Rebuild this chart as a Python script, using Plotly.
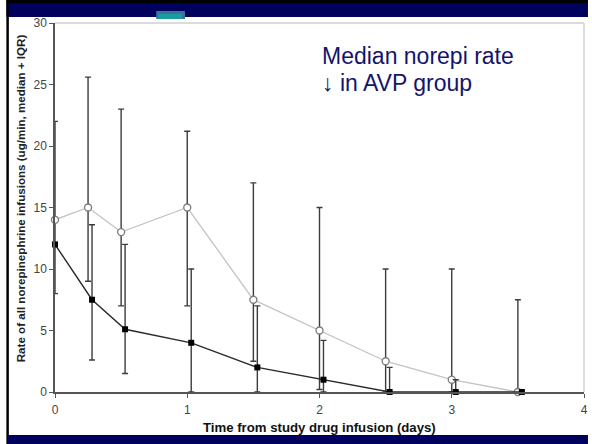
import plotly.graph_objects as go

# ---- data ----
days_placebo = [0, 0.25, 0.5, 1, 1.5, 2, 2.5, 3, 3.5]
median_placebo = [14, 15, 13, 15, 7.5, 5, 2.5, 1, 0]
q3_placebo = [22, 25.6, 23, 21.2, 17, 15, 10, 10, 7.5]
q1_placebo = [8, 9, 7, 7, 2.5, 0.2, 0, 0, 0]

days_avp = [0, 0.28, 0.53, 1.03, 1.53, 2.03, 2.53, 3.03, 3.53]
median_avp = [12, 7.5, 5.1, 4, 2, 1, 0, 0, 0]
q3_avp = [12, 13.6, 12, 10, 7, 4.2, 2, 1, 0]
q1_avp = [12, 2.6, 1.5, 0, 0, 0, 0, 0, 0]

x_ticks = [0, 1, 2, 3, 4]
y_ticks = [0, 5, 10, 15, 20, 25, 30]

W, H = 592, 444
L, R, T, B = 55, 588, 23, 392  # plot area in pixels


def px(x):
    return (x - L) / (R - L)


def py(y):
    return (B - y) / (B - T)


fig = go.Figure()

err_col = "#3c3c3c"

fig.add_trace(go.Scatter(
    x=days_placebo, y=median_placebo, mode="lines+markers",
    line=dict(color="#c4c4c4", width=1.3),
    marker=dict(symbol="circle", size=7, color="white",
                line=dict(color="#7a7a7a", width=1.3)),
    error_y=dict(type="data", symmetric=False,
                 array=[h - m for h, m in zip(q3_placebo, median_placebo)],
                 arrayminus=[m - l for l, m in zip(q1_placebo, median_placebo)],
                 color=err_col, thickness=1.4, width=3),
    cliponaxis=False, showlegend=False,
))

fig.add_trace(go.Scatter(
    x=days_avp, y=median_avp, mode="lines+markers",
    line=dict(color="#2a2a2a", width=1.4),
    marker=dict(symbol="square", size=6, color="black"),
    error_y=dict(type="data", symmetric=False,
                 array=[h - m for h, m in zip(q3_avp, median_avp)],
                 arrayminus=[m - l for l, m in zip(q1_avp, median_avp)],
                 color=err_col, thickness=1.4, width=3),
    cliponaxis=False, showlegend=False,
))

shapes = []
# plot area top/right border
shapes.append(dict(type="line", xref="paper", yref="paper", x0=0, x1=1, y0=1, y1=1,
                   line=dict(color="#cfcfcf", width=1.5)))
shapes.append(dict(type="line", xref="paper", yref="paper", x0=1, x1=1, y0=0, y1=1,
                   line=dict(color="#cfcfcf", width=1.5)))


def rect(x0, y0, x1, y1, color):
    shapes.append(dict(type="rect", xref="paper", yref="paper",
                       x0=px(x0), x1=px(x1), y0=py(y1), y1=py(y0),
                       fillcolor=color, line=dict(width=0), layer="above"))


# slide frame
rect(6, 0, W, 3, "#000000")
rect(6, 3, W, 17, "#00005e")
rect(6, 0, 8.5, H, "#000000")
rect(7, 435, W, H, "#00005e")
rect(157, 11, 186, 19, "#3f6f9c")
rect(159, 14, 183, 19, "#1a9c9c")

note_font = dict(family="Liberation Sans, Arial", size=23, color="#14146b")
annotations = [
    dict(text="Median norepi rate", xref="paper", yref="paper",
         x=px(322), y=py(41), xanchor="left", yanchor="top", align="left",
         showarrow=False, font=note_font),
    dict(text="↓ in AVP group", xref="paper", yref="paper",
         x=px(322), y=py(68), xanchor="left", yanchor="top", align="left",
         showarrow=False, font=note_font),
    dict(text="<b>Rate of all norepinephrine infusions (ug/min, median + IQR)</b>",
         xref="paper", yref="paper", x=px(20), y=py(198), textangle=-90,
         xanchor="center", yanchor="middle", showarrow=False,
         font=dict(family="Liberation Sans, Arial", size=11.6, color="#222222")),
    dict(text="<b>Time from study drug infusion (days)</b>",
         xref="paper", yref="paper", x=px(321), y=py(427),
         xanchor="center", yanchor="middle", showarrow=False,
         font=dict(family="Liberation Sans, Arial", size=13.2, color="#111111")),
]

fig.update_layout(
    width=W, height=H,
    margin=dict(l=L, r=W - R, t=T, b=H - B, pad=0),
    paper_bgcolor="white", plot_bgcolor="white",
    shapes=shapes, annotations=annotations,
    font=dict(family="Liberation Sans, Arial", size=12, color="#444444"),
    xaxis=dict(range=[0, 4], tickvals=x_ticks, ticktext=[str(v) for v in x_ticks],
               showgrid=False, zeroline=False, showline=True, linecolor="#555555",
               linewidth=1.5, ticks="outside", ticklen=4, tickcolor="#555555",
               ticklabelstandoff=2, fixedrange=True),
    yaxis=dict(range=[0, 30], tickvals=y_ticks, ticktext=[str(v) for v in y_ticks],
               showgrid=False, zeroline=False, showline=True, linecolor="#555555",
               linewidth=1.5, ticks="outside", ticklen=4, tickcolor="#555555",
               fixedrange=True),
)

fig.write_html("out.html", config={"displayModeBar": False})
